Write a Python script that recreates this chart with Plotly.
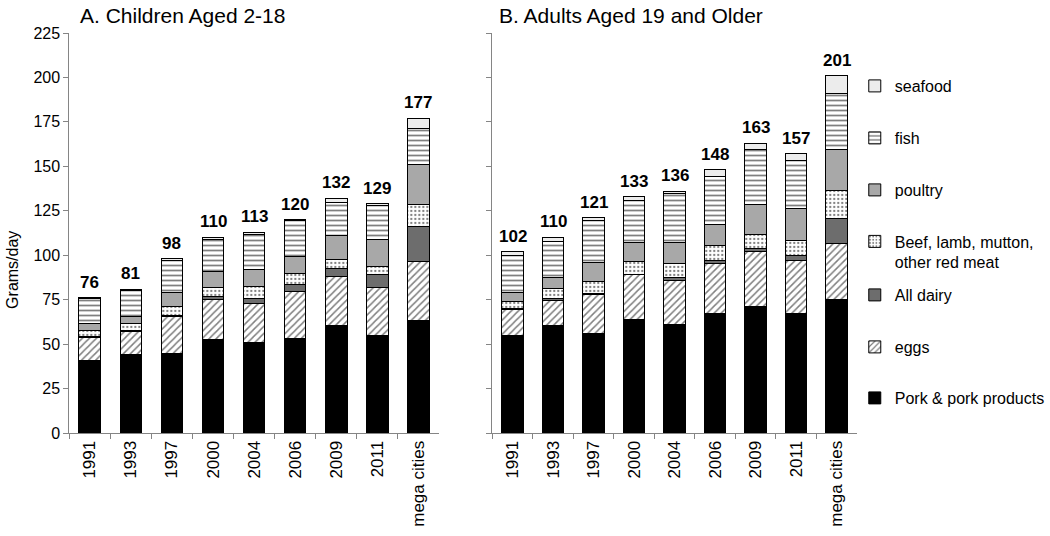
import plotly.graph_objects as go

categories = ["1991", "1993", "1997", "2000", "2004", "2006", "2009", "2011", "mega cities"]

series_names = ["Pork & pork products", "eggs", "All dairy",
                "Beef, lamb, mutton,<br>other red meat", "poultry", "fish", "seafood"]

# Children aged 2-18 (grams/day)
child_pork    = [41.0, 44.4, 44.8, 52.7, 50.8, 53.2, 60.2, 55.1, 63.2]
child_eggs    = [13.0, 12.6, 20.6, 22.5, 21.8, 26.3, 27.7, 26.9, 33.2]
child_dairy   = [0.5, 0.4, 0.5, 1.5, 3.2, 4.3, 4.7, 6.9, 19.6]
child_beef    = [3.0, 4.3, 5.1, 5.0, 6.5, 6.0, 5.1, 4.7, 12.8]
child_poultry = [4.0, 4.1, 7.9, 9.0, 9.9, 9.7, 13.3, 15.5, 22.5]
child_fish    = [14.0, 14.6, 18.3, 18.3, 19.2, 19.8, 18.5, 18.8, 20.1]
child_seafood = [0.5, 0.6, 0.8, 1.0, 1.6, 0.7, 2.5, 1.1, 5.6]
child_totals  = ["76", "81", "98", "110", "113", "120", "132", "129", "177"]

# Adults aged 19 and older (grams/day)
adult_pork    = [55.0, 60.2, 55.7, 63.6, 61.1, 67.0, 71.4, 67.3, 75.2]
adult_eggs    = [14.6, 14.6, 22.1, 25.3, 24.9, 28.4, 30.7, 30.0, 31.5]
adult_dairy   = [0.5, 0.6, 0.5, 0.5, 1.6, 1.9, 1.8, 2.6, 13.7]
adult_beef    = [4.0, 5.8, 7.0, 7.0, 7.9, 8.1, 7.5, 8.3, 15.9]
adult_poultry = [5.2, 6.4, 10.5, 10.9, 11.5, 12.0, 17.2, 18.2, 23.4]
adult_fish    = [20.8, 20.0, 23.6, 23.7, 27.8, 26.8, 30.6, 27.1, 31.4]
adult_seafood = [1.9, 2.4, 1.6, 2.0, 1.2, 3.8, 3.8, 3.5, 9.9]
adult_totals  = ["102", "110", "121", "133", "136", "148", "163", "157", "201"]

y_ticks = [0, 25, 50, 75, 100, 125, 150, 175, 200, 225]

FONT = "Liberation Sans, Arial, sans-serif"

W, H = 1050, 536


def px(x):
    return x / W


def py(y):
    return 1 - y / H


styles = [
    dict(color="#000000"),
    dict(color="#ffffff", pattern=dict(shape="/", fgcolor="#000000", bgcolor="#ffffff", size=5, solidity=0.3, fillmode="overlay")),
    dict(color="#6d6d6d"),
    dict(color="#ffffff", pattern=dict(shape=".", fgcolor="#000000", bgcolor="#ffffff", size=4, solidity=0.25, fillmode="overlay")),
    dict(color="#a8a8a8"),
    dict(color="#ffffff", pattern=dict(shape="-", fgcolor="#000000", bgcolor="#ffffff", size=5, solidity=0.35, fillmode="overlay")),
    dict(color="#ececec"),
]

child_series = [child_pork, child_eggs, child_dairy, child_beef, child_poultry, child_fish, child_seafood]
adult_series = [adult_pork, adult_eggs, adult_dairy, adult_beef, adult_poultry, adult_fish, adult_seafood]

legend_ids = ["legend7", "legend6", "legend5", "legend4", "legend3", "legend2", "legend"]
legend_y = [398, 347, 295, 252, 190, 138, 86]

fig = go.Figure()
for i, name in enumerate(series_names):
    st = styles[i]
    marker = dict(color=st["color"], line=dict(color="#000000", width=1))
    if "pattern" in st:
        marker["pattern"] = st["pattern"]
    fig.add_trace(go.Bar(x=categories, y=child_series[i], name=name, marker=marker,
                         xaxis="x", yaxis="y", showlegend=True, legend=legend_ids[i]))
    fig.add_trace(go.Bar(x=categories, y=adult_series[i], name=name, marker=marker,
                         xaxis="x2", yaxis="y2", showlegend=False))

annotations = []
for series, totals, xa, ya in [(child_series, child_totals, "x", "y"), (adult_series, adult_totals, "x2", "y2")]:
    for j, c in enumerate(categories):
        top = sum(s[j] for s in series)
        annotations.append(dict(x=j, y=top, xref=xa, yref=ya, text="<b>%s</b>" % totals[j],
                                showarrow=False, yanchor="bottom", yshift=4,
                                font=dict(family=FONT, size=17, color="#000000")))

annotations.append(dict(x=px(79), y=py(15), xref="paper", yref="paper", text="A. Children Aged 2-18",
                        showarrow=False, xanchor="left", yanchor="middle",
                        font=dict(family=FONT, size=21, color="#000000")))
annotations.append(dict(x=px(502), y=py(15), xref="paper", yref="paper", text="B. Adults Aged 19 and Older",
                        showarrow=False, xanchor="left", yanchor="middle",
                        font=dict(family=FONT, size=21, color="#000000")))
annotations.append(dict(x=px(12), y=py(270), xref="paper", yref="paper", text="Grams/day",
                        showarrow=False, textangle=-90, xanchor="center", yanchor="middle",
                        font=dict(family=FONT, size=16, color="#000000")))

axis_common = dict(showline=True, linecolor="#858585", linewidth=1, ticks="outside",
                   tickcolor="#858585", ticklen=5, showgrid=False, zeroline=False,
                   automargin=False)

layout = dict(
    width=W, height=H,
    margin=dict(l=0, r=0, t=0, b=0),
    paper_bgcolor="#ffffff", plot_bgcolor="#ffffff",
    barmode="stack", bargap=0.47,
    font=dict(family=FONT, size=16, color="#000000"),
    annotations=annotations,
    xaxis=dict(type="category", domain=[px(70), px(443)], anchor="y", tickangle=-90, tickson="boundaries",
               categoryorder="array", categoryarray=categories,
               tickfont=dict(family=FONT, size=17, color="#000000"), **axis_common),
    yaxis=dict(domain=[py(433), py(33)], anchor="x", range=[0, 225], tickvals=y_ticks,
               tickfont=dict(family=FONT, size=16, color="#000000"), **axis_common),
    xaxis2=dict(type="category", domain=[px(497), px(865)], anchor="y2", tickangle=-90, tickson="boundaries",
                categoryorder="array", categoryarray=categories,
                tickfont=dict(family=FONT, size=17, color="#000000"), **axis_common),
    yaxis2=dict(domain=[py(433), py(33)], anchor="x2", range=[0, 225], tickvals=y_ticks,
                showticklabels=False, **axis_common),
)

for lid, ly in zip(legend_ids, legend_y):
    layout[lid] = dict(x=px(863), y=py(ly), xanchor="left", yanchor="middle", valign="top",
                       bgcolor="rgba(0,0,0,0)", borderwidth=0,
                       font=dict(family=FONT, size=16, color="#000000"))

fig.update_layout(**layout)
fig.write_html("out.html", config={"displayModeBar": False},
               post_script="document.body.style.margin='0';document.body.style.overflow='hidden';")
